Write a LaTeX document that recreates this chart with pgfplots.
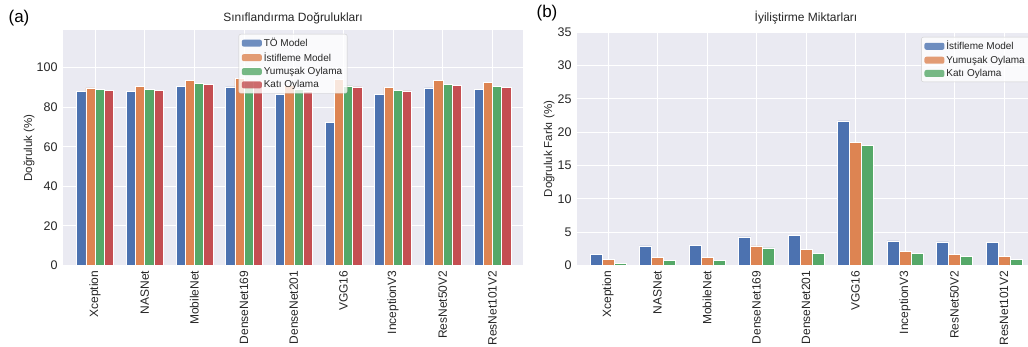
\documentclass[border=0pt]{standalone}
\usepackage{fontspec}
\setmainfont{Liberation Sans}
\usepackage{pgfplots}
\usepackage{pgfplotstable}
\pgfplotsset{compat=1.18}
\definecolor{sbblue}{HTML}{4C72B0}
\definecolor{sborange}{HTML}{DD8452}
\definecolor{sbgreen}{HTML}{55A868}
\definecolor{sbred}{HTML}{C44E52}
\definecolor{sbbg}{HTML}{EAEAF2}
\definecolor{txt}{HTML}{262626}
\definecolor{legedge}{HTML}{CCCCCC}

\pgfplotstableread{
x to   st   soft hard
0 88.1 89.8 89.1 88.5
1 87.8 90.7 89.0 88.5
2 90.7 93.7 92.0 91.5
3 90.2 94.5 93.2 92.9
4 86.5 91.0 88.9 88.3
5 72.3 94.0 90.8 90.3
6 86.4 90.1 88.5 88.3
7 89.8 93.4 91.5 91.2
8 89.0 92.4 90.4 90.0
}\dataA

\pgfplotstableread{
x st   soft hard
0 1.71 1.00 0.30
1 2.96 1.26 0.75
2 3.06 1.30 0.85
3 4.30 2.96 2.66
4 4.50 2.40 1.80
5 21.7 18.5 18.0
6 3.70 2.10 1.90
7 3.56 1.70 1.40
8 3.46 1.35 1.00
}\dataB

\pgfplotsset{
  sbstyle/.style={
    scale only axis,
    axis background/.style={fill=sbbg},
    axis lines=box,
    axis line style={draw=none},
    grid=major,
    major grid style={white, line width=0.9pt},
    major tick length=0pt,
    tick style={draw=none},
    /pgf/number format/assume math mode=true,
    ticklabel style={font=\fontsize{12.5}{14}\selectfont, text=txt},
    xtick={0,...,8},
    xticklabels={Xception,NASNet,MobileNet,DenseNet169,DenseNet201,VGG16,InceptionV3,ResNet50V2,ResNet101V2},
    xticklabel style={rotate=90, anchor=east, inner sep=1pt, font=\fontsize{12}{14}\selectfont},
    xticklabel shift=4pt,
    yticklabel shift=2pt,
    ybar=0pt,
    legend cell align=left,
    legend image code/.code={\path[##1,draw=none] (0pt,-3.5pt) rectangle (20pt,3.5pt);},
    legend style={font=\fontsize{10}{11}\selectfont, text=txt, fill=white, fill opacity=0.8, text opacity=1,
      draw=legedge, rounded corners=2pt, row sep=0.5pt, inner xsep=3pt, inner ysep=2pt},
  },
  barst/.style={draw=white, line width=0.5pt},
}

\begin{document}
\begin{tikzpicture}[x=1pt,y=1pt]
\path (0,0) rectangle (1028,347);

\begin{axis}[sbstyle,
  at={(63pt,81.5pt)}, anchor=south west,
  width=460pt, height=235.5pt,
  xmin=-0.645, xmax=8.615, ymin=0, ymax=119,
  ytick={0,20,...,100},
  bar width=0.185,
  legend style={at={(0.5,1)}, anchor=north, yshift=-4pt},
]
\addplot[barst, fill=sbblue] table[x=x, y=to] {\dataA};
\addplot[barst, fill=sborange] table[x=x, y=st] {\dataA};
\addplot[barst, fill=sbgreen] table[x=x, y=soft] {\dataA};
\addplot[barst, fill=sbred] table[x=x, y=hard] {\dataA};
\legend{TÖ Model, İstifleme Model, Yumuşak Oylama, Katı Oylama}
\end{axis}

\begin{axis}[sbstyle,
  at={(577pt,81.3pt)}, anchor=south west,
  width=458pt, height=233.7pt,
  xmin=-0.626, xmax=8.626, ymin=0, ymax=35,
  ytick={0,5,...,35},
  bar width=0.24,
  legend style={at={(1,1)}, anchor=north east, xshift=-5pt, yshift=-5pt},
]
\addplot[barst, fill=sbblue] table[x=x, y=st] {\dataB};
\addplot[barst, fill=sborange] table[x=x, y=soft] {\dataB};
\addplot[barst, fill=sbgreen] table[x=x, y=hard] {\dataB};
\legend{İstifleme Model, Yumuşak Oylama, Katı Oylama}
\end{axis}

\node[rotate=90, text=txt, font=\fontsize{11.5}{13}\selectfont] at (29,199) {Doğruluk (\%)};
\node[rotate=90, text=txt, font=\fontsize{11.5}{13}\selectfont] at (549,198) {Doğruluk Farkı (\%)};
\node[text=txt, font=\fontsize{12}{14}\selectfont] at (293,329) {Sınıflandırma Doğrulukları};
\node[text=txt, font=\fontsize{12}{14}\selectfont] at (806,329) {İyiliştirme Miktarları};
\node[text=black, font=\fontsize{17}{19}\selectfont] at (19,329) {(a)};
\node[text=black, font=\fontsize{17}{19}\selectfont] at (547,333.5) {(b)};

\pgfresetboundingbox
\path[use as bounding box] (0,0) rectangle (1028,347);
\end{tikzpicture}
\end{document}
